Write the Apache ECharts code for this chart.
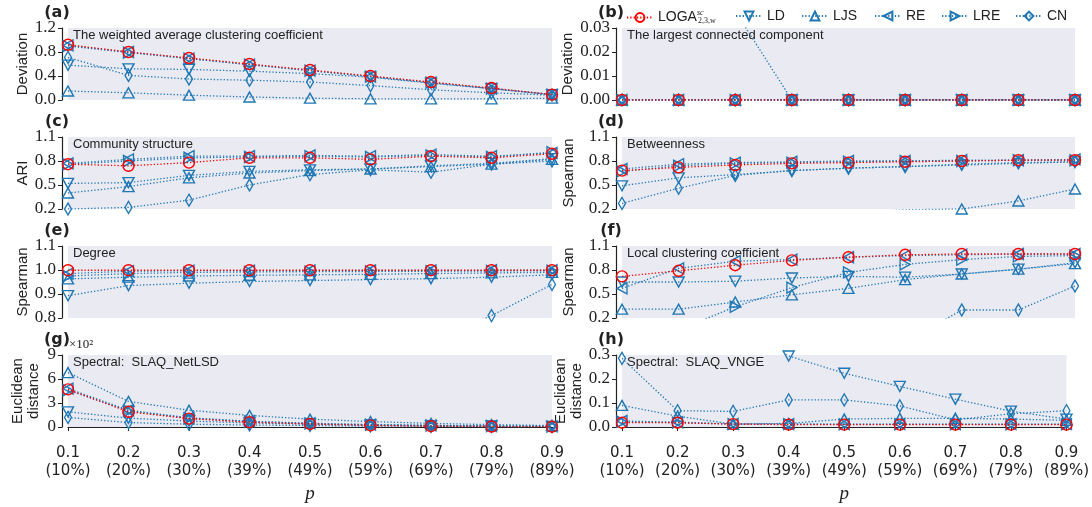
<!DOCTYPE html>
<html><head><meta charset="utf-8">
<script src="https://cdn.jsdelivr.net/npm/echarts@6/dist/echarts.min.js"></script>
<style>html,body{margin:0;padding:0;background:#fff}#c{width:1092px;height:507px}</style>
</head><body><div id="c"></div>
<script>
// ---------------- DATA ----------------
const categories = ['0.1','0.2','0.3','0.4','0.5','0.6','0.7','0.8','0.9'];
const percentLabels = ['10%','20%','30%','39%','49%','59%','69%','79%','89%'];
const methods = ['LOGA','LD','LJS','RE','LRE','CN'];

// (a) weighted average clustering coefficient (Deviation)
const a_LOGA = [0.92, 0.80, 0.70, 0.60, 0.50, 0.40, 0.30, 0.20, 0.09];
const a_LD   = [0.58, 0.52, 0.51, 0.48, 0.44, 0.38, 0.28, 0.19, 0.09];
const a_LJS  = [0.15, 0.12, 0.08, 0.05, 0.03, 0.02, 0.02, 0.02, 0.03];
const a_RE   = [0.91, 0.80, 0.69, 0.59, 0.49, 0.39, 0.29, 0.19, 0.09];
const a_LRE  = [0.90, 0.79, 0.69, 0.59, 0.49, 0.39, 0.29, 0.19, 0.09];
const a_CN   = [0.71, 0.41, 0.35, 0.33, 0.30, 0.24, 0.17, 0.12, 0.08];
// (b) largest connected component (Deviation)
const b_LOGA = [0, 0, 0, 0, 0, 0, 0, 0, 0];
const b_LD   = [0.06, 0.05, 0.037, 0, 0, 0, 0, 0, 0];
const b_LJS  = [0, 0, 0, 0, 0, 0, 0, 0, 0];
const b_RE   = [0, 0, 0, 0, 0, 0, 0, 0, 0];
const b_LRE  = [0, 0, 0, 0, 0, 0, 0, 0, 0];
const b_CN   = [0, 0, 0, 0, 0, 0, 0, 0, 0];
// (c) community structure (ARI)
const c_LOGA = [0.76, 0.74, 0.78, 0.84, 0.84, 0.82, 0.86, 0.84, 0.89];
const c_LD   = [0.52, 0.53, 0.62, 0.67, 0.69, 0.70, 0.74, 0.77, 0.83];
const c_LJS  = [0.40, 0.48, 0.59, 0.65, 0.68, 0.70, 0.73, 0.76, 0.82];
const c_RE   = [0.77, 0.82, 0.86, 0.86, 0.87, 0.86, 0.88, 0.86, 0.90];
const c_LRE  = [0.76, 0.80, 0.84, 0.85, 0.86, 0.85, 0.87, 0.85, 0.91];
const c_CN   = [0.20, 0.22, 0.31, 0.50, 0.63, 0.69, 0.66, 0.76, 0.80];
// (d) betweenness (Spearman)
const d_LOGA = [0.68, 0.72, 0.75, 0.77, 0.78, 0.79, 0.80, 0.81, 0.81];
const d_LD   = [0.49, 0.59, 0.63, 0.68, 0.71, 0.73, 0.75, 0.77, 0.79];
const d_LJS  = [0.02, 0.05, 0.08, 0.11, 0.15, 0.19, 0.20, 0.30, 0.45];
const d_RE   = [0.70, 0.76, 0.78, 0.79, 0.80, 0.80, 0.81, 0.81, 0.82];
const d_LRE  = [0.67, 0.74, 0.77, 0.78, 0.79, 0.80, 0.80, 0.81, 0.81];
const d_CN   = [0.27, 0.46, 0.62, 0.68, 0.71, 0.73, 0.76, 0.78, 0.79];
// (e) degree (Spearman)
const e_LOGA = [0.999, 0.999, 0.999, 0.999, 0.999, 0.999, 0.999, 0.999, 0.999];
const e_LD   = [0.893, 0.935, 0.945, 0.952, 0.956, 0.960, 0.964, 0.970, 0.980];
const e_LJS  = [0.963, 0.970, 0.975, 0.978, 0.980, 0.982, 0.985, 0.988, 0.990];
const e_RE   = [0.985, 0.995, 0.997, 0.997, 0.998, 0.998, 0.998, 0.999, 0.999];
const e_LRE  = [0.975, 0.985, 0.990, 0.992, 0.993, 0.994, 0.995, 0.996, 0.997];
const e_CN   = [0.55, 0.60, 0.64, 0.67, 0.70, 0.72, 0.70, 0.81, 0.94];
// (f) local clustering coefficient (Spearman)
const f_LOGA = [0.72, 0.79, 0.86, 0.92, 0.96, 0.99, 1.00, 1.00, 1.00];
const f_LD   = [0.65, 0.65, 0.66, 0.70, 0.72, 0.71, 0.75, 0.81, 0.89];
const f_LJS  = [0.31, 0.31, 0.40, 0.49, 0.57, 0.68, 0.75, 0.81, 0.88];
const f_RE   = [0.57, 0.82, 0.91, 0.93, 0.96, 0.98, 0.99, 1.00, 1.00];
const f_LRE  = [0.02, 0.05, 0.34, 0.58, 0.77, 0.87, 0.93, 0.97, 0.98];
const f_CN   = [-0.30, -0.30, -0.25, -0.20, -0.15, -0.10, 0.30, 0.30, 0.60];
// (g) SLAQ_NetLSD (Euclidean distance, in units of 10^2)
const g_LOGA = [4.70, 1.90, 1.05, 0.60, 0.38, 0.20, 0.10, 0.06, 0.04];
const g_LD   = [1.90, 1.10, 0.75, 0.50, 0.35, 0.25, 0.18, 0.12, 0.08];
const g_LJS  = [6.80, 3.20, 2.10, 1.45, 0.98, 0.68, 0.45, 0.30, 0.18];
const g_RE   = [4.80, 2.10, 1.15, 0.72, 0.47, 0.30, 0.20, 0.13, 0.08];
const g_LRE  = [4.60, 2.00, 1.10, 0.68, 0.44, 0.28, 0.18, 0.12, 0.07];
const g_CN   = [1.20, 0.55, 0.35, 0.25, 0.18, 0.12, 0.08, 0.06, 0.05];
// (h) SLAQ_VNGE (Euclidean distance)
const h_LOGA = [0.018, 0.018, 0.012, 0.010, 0.010, 0.010, 0.010, 0.010, 0.010];
const h_LD   = [0.90, 0.70, 0.50, 0.296, 0.224, 0.169, 0.116, 0.066, 0.033];
const h_LJS  = [0.090, 0.045, 0.012, 0.015, 0.033, 0.036, 0.036, 0.033, 0.028];
const h_RE   = [0.025, 0.020, 0.013, 0.012, 0.012, 0.012, 0.012, 0.012, 0.012];
const h_LRE  = [0.022, 0.018, 0.012, 0.012, 0.011, 0.011, 0.011, 0.011, 0.011];
const h_CN   = [0.286, 0.068, 0.065, 0.113, 0.113, 0.088, 0.030, 0.055, 0.068];

const panelLetters = ['(a)','(b)','(c)','(d)','(e)','(f)','(g)','(h)'];
const panelTitles = ['The weighted average clustering coefficient','The largest connected component',
  'Community structure','Betweenness','Degree','Local clustering coefficient',
  'Spectral:  SLAQ_NetLSD','Spectral:  SLAQ_VNGE'];
const yNames = ['Deviation','Deviation','ARI','Spearman','Spearman','Spearman','Euclidean\ndistance','Euclidean\ndistance'];
const yTicks = [[0,0.4,0.8,1.2],[0,0.01,0.02,0.03],[0.2,0.5,0.8,1.1],[0.2,0.5,0.8,1.1],
  [0.8,0.9,1.0,1.1],[0.2,0.5,0.8,1.1],[0,3,6,9],[0,0.1,0.2,0.3]];
const yDecimals = [1,2,1,1,1,1,0,1];

const panelData = [
  [a_LOGA,a_LD,a_LJS,a_RE,a_LRE,a_CN],[b_LOGA,b_LD,b_LJS,b_RE,b_LRE,b_CN],
  [c_LOGA,c_LD,c_LJS,c_RE,c_LRE,c_CN],[d_LOGA,d_LD,d_LJS,d_RE,d_LRE,d_CN],
  [e_LOGA,e_LD,e_LJS,e_RE,e_LRE,e_CN],[f_LOGA,f_LD,f_LJS,f_RE,f_LRE,f_CN],
  [g_LOGA,g_LD,g_LJS,g_RE,g_LRE,g_CN],[h_LOGA,h_LD,h_LJS,h_RE,h_LRE,h_CN]
];

// ---------------- LAYOUT / STYLE ----------------
const BLUE = '#1f77b4', RED = '#ff0000', INK = '#222';
const colLeft = [68, 622], colWidth = [484, 453];
const rowTop = [28, 137, 246, 355], rowHeight = 72;
const nameGaps = [[30, 39],[30, 39],[30, 39],[20, 28]];
const styles = {
  LOGA: {color: RED,  symbol: 'circle',   rot: 0,   size: 11},
  LD:   {color: BLUE, symbol: 'triangle', rot: 180, size: [11, 10]},
  LJS:  {color: BLUE, symbol: 'triangle', rot: 0,   size: [11, 10]},
  RE:   {color: BLUE, symbol: 'triangle', rot: 90,  size: [11, 10]},
  LRE:  {color: BLUE, symbol: 'triangle', rot: -90, size: [11, 10]},
  CN:   {color: BLUE, symbol: 'diamond',  rot: 0,   size: [7, 12]}
};

const grids = [], xAxes = [], yAxes = [], series = [], graphics = [];
for (let p = 0; p < 8; p++) {
  const row = Math.floor(p / 2), col = p % 2;
  const left = colLeft[col], top = rowTop[row];
  grids.push({left: left, top: top, width: colWidth[col], height: rowHeight, show: true,
    backgroundColor: '#EAEAF2', borderWidth: 0});
  const bottomRow = row === 3;
  xAxes.push({
    gridIndex: p, type: 'category', data: categories, boundaryGap: false,
    show: bottomRow, position: 'bottom', offset: 11,
    axisLine: {show: true, lineStyle: {color: INK, width: 1.2}},
    axisTick: {show: true, length: 4, lineStyle: {color: INK}},
    axisLabel: {interval: 0, margin: 6, color: INK, fontFamily: 'DejaVu Sans', fontSize: 15, lineHeight: 18,
      formatter: (v, i) => v + '\n(' + percentLabels[i] + ')'},
    splitLine: {show: false},
    name: 'p', nameLocation: 'middle', nameGap: 46,
    nameTextStyle: {fontFamily: 'Liberation Serif', fontStyle: 'italic', fontSize: 19, color: INK}
  });
  const t = yTicks[p], dec = yDecimals[p];
  yAxes.push({
    gridIndex: p, type: 'value', min: t[0], max: t[t.length - 1], position: 'left', offset: 6,
    axisLine: {show: true, lineStyle: {color: INK, width: 1.2}},
    axisTick: {show: true, length: 4, customValues: t, lineStyle: {color: INK}},
    axisLabel: {customValues: t, margin: 6, color: INK, fontFamily: 'Liberation Serif', fontSize: 17,
      formatter: v => Number(v).toFixed(dec)},
    splitLine: {show: false},
    name: yNames[p], nameLocation: 'middle', nameGap: nameGaps[row][col],
    nameTextStyle: {fontFamily: 'Liberation Sans', fontSize: 15, color: INK, lineHeight: 16}
  });
  methods.forEach((m, k) => {
    const s = styles[m];
    series.push({
      name: m, type: 'line', xAxisIndex: p, yAxisIndex: p, data: panelData[p][k],
      clip: true, z: m === 'LOGA' ? 4 : 3,
      symbol: s.symbol, symbolSize: s.size, symbolRotate: s.rot, showSymbol: true,
      lineStyle: {color: s.color, width: 1.3, type: [1.3, 2]},
      itemStyle: {color: 'rgba(0,0,0,0)', borderColor: s.color, borderWidth: 1.4},
      emphasis: {disabled: true}
    });
  });
  graphics.push({type: 'text', x: left - 11, y: top - 15, style: {
    text: panelLetters[p], fontFamily: 'DejaVu Sans', fontWeight: 'bold', fontSize: 16, fill: INK,
    align: 'center', verticalAlign: 'middle', textAlign: 'center', textVerticalAlign: 'middle'}});
  graphics.push({type: 'text', x: left + 5, y: top + 1, style: {
    text: panelTitles[p], fontFamily: 'Liberation Sans', fontSize: 13, fill: INK,
    align: 'left', verticalAlign: 'top', textAlign: 'left', textVerticalAlign: 'top'}});
}
graphics.push({type: 'text', x: colLeft[0] + 1, y: rowTop[3] - 10, style: {
  text: '×10²', fontFamily: 'Liberation Serif', fontSize: 13, fill: INK,
  align: 'left', verticalAlign: 'middle', textAlign: 'left', textVerticalAlign: 'middle'}});

const legendLefts = [626, 735, 801, 874, 941, 1015];
const legends = methods.map((m, i) => ({
  data: [m], left: legendLefts[i], top: 9, padding: 0, itemWidth: 26, itemHeight: 11,
  selectedMode: false,
  textStyle: {fontFamily: 'Liberation Sans', fontSize: 14, color: INK,
    rich: {m: {fontFamily: 'Liberation Sans', fontSize: 14, color: INK},
           sp: {fontFamily: 'Liberation Serif', fontStyle: 'italic', fontSize: 8, color: INK, width: 1, padding: [0, 0, 9, 0]},
           sb: {fontFamily: 'Liberation Serif', fontSize: 8, color: INK, padding: [7, 0, 0, 0]}}},
  formatter: n => n === 'LOGA' ? '{m|LOGA}{sp|sc}{sb|2,3,w}' : n
}));

const chart = echarts.init(document.getElementById('c'), null, {renderer: 'canvas'});
chart.setOption({
  animation: false, backgroundColor: '#fff',
  grid: grids, xAxis: xAxes, yAxis: yAxes, series: series,
  legend: legends, graphic: {elements: graphics}
});
</script></body></html>
